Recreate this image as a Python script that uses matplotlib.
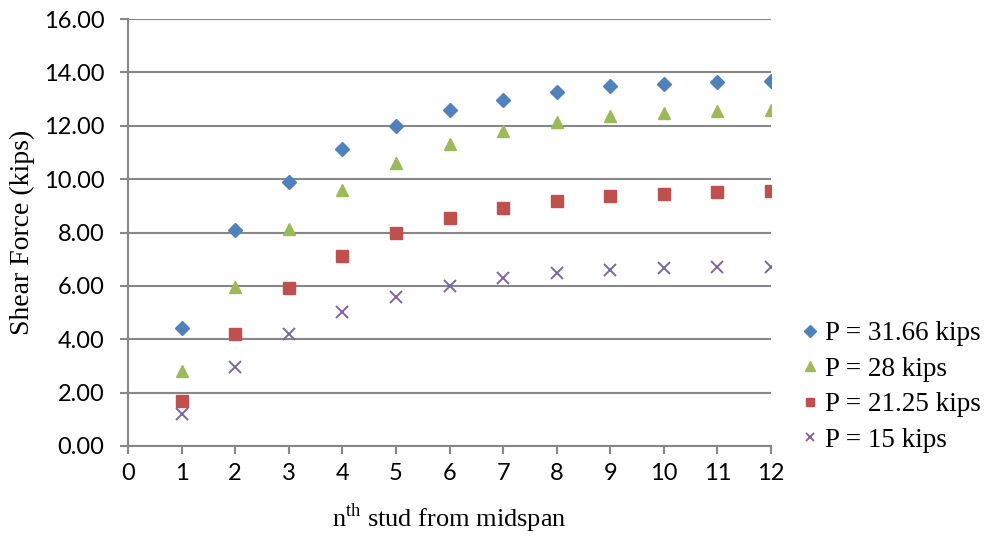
import matplotlib
matplotlib.use("Agg")
import matplotlib.pyplot as plt

studs = [1, 2, 3, 4, 5, 6, 7, 8, 9, 10, 11, 12]
p3166 = [4.44, 8.10, 9.89, 11.13, 11.99, 12.58, 12.98, 13.28, 13.48, 13.58, 13.64, 13.68]
p28 = [2.82, 5.95, 8.12, 9.58, 10.61, 11.32, 11.79, 12.13, 12.35, 12.49, 12.57, 12.60]
p2125 = [1.70, 4.19, 5.93, 7.13, 7.97, 8.53, 8.91, 9.18, 9.35, 9.46, 9.52, 9.54]
p15 = [1.19, 2.95, 4.19, 5.02, 5.59, 6.00, 6.29, 6.47, 6.59, 6.68, 6.72, 6.72]
labels = ["P = 31.66 kips", "P = 28 kips", "P = 21.25 kips", "P = 15 kips"]
yticks = [0, 2, 4, 6, 8, 10, 12, 14, 16]
xticks = list(range(0, 13))

fig = plt.figure(figsize=(9.85, 5.38), dpi=100)
ax = fig.add_axes([128/985, 1-446/538, (771-128)/985, (446-19)/538])

grid_c = "#878787"
ax.plot(studs, p3166, linestyle="none", marker="D", ms=7.5, color="#4F81BD", mec="#4F81BD", label=labels[0])
ax.plot(studs, p28, linestyle="none", marker="^", ms=9, color="#9BBB59", mec="#9BBB59", label=labels[1])
ax.plot(studs, p2125, linestyle="none", marker="s", ms=8.5, color="#C0504D", mec="#C0504D", label=labels[2])
ax.plot(studs, p15, linestyle="none", marker="x", ms=8, mew=1.4, color="#8064A2", label=labels[3])

ax.set_xlim(0, 12)
ax.set_ylim(0, 16)
ax.set_xticks(xticks)
ax.set_yticks(yticks)
ax.set_yticklabels([f"{v:.2f}" for v in yticks])
ax.yaxis.grid(True, color=grid_c, linewidth=1.5)
ax.set_axisbelow(True)
for s in ["top", "right"]:
    ax.spines[s].set_visible(False)
for s in ["left", "bottom"]:
    ax.spines[s].set_color(grid_c)
    ax.spines[s].set_linewidth(1.5)
ax.tick_params(axis="both", direction="out", length=6, width=1.5, color=grid_c, labelsize=17)
ax.tick_params(axis="y", pad=11)
ax.tick_params(axis="x", pad=6)
for lab in ax.get_xticklabels() + ax.get_yticklabels():
    lab.set_fontfamily("Lato")

ax.set_xlabel(r"n$^{\mathregular{th}}$ stud from midspan", fontfamily="Liberation Serif", fontsize=19, labelpad=13)
ax.set_ylabel("Shear Force (kips)", fontfamily="Liberation Serif", fontsize=20, labelpad=6)

leg = ax.legend(loc="center left", bbox_to_anchor=(803/985, 1-387/538), bbox_transform=fig.transFigure,
                frameon=False, prop={"family": "Liberation Serif", "size": 19.5},
                handlelength=0.55, handletextpad=0.25, labelspacing=0.39, borderaxespad=0, borderpad=0,
                markerscale=0.75)

fig.savefig("out.png", dpi=100)
